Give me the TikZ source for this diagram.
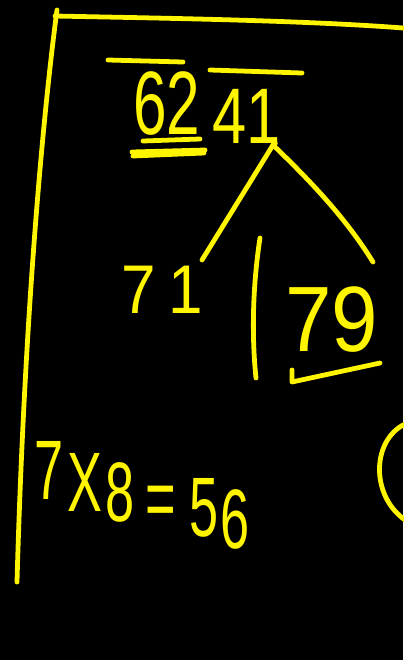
\documentclass[tikz,border=0pt]{standalone}
\usepackage{fontspec}
\setmainfont{Liberation Sans}
\usepackage{tikz}
\usetikzlibrary{positioning,calc}
\definecolor{inkyellow}{RGB}{255, 245, 0}
\newcommand{\handsize}[1]{\fontsize{#1}{#1}\selectfont}

\begin{document}
\begin{tikzpicture}[x=0.025cm, y=-0.025cm, line cap=round, line join=round,
    ink/.style={draw=inkyellow, line width=3.4pt},
    digits/.style={text=inkyellow, inner sep=0pt, anchor=center}]
    % Board
    \fill[black] (0,0) rectangle (403,660);
    \useasboundingbox (0,0) rectangle (403,660);

    % Frame of the page
    \draw[ink] (57,10) .. controls (45,100) and (25,300) .. (17,582);
    \draw[ink] (55,16) .. controls (150,18) and (300,20) .. (403,28);

    % Top number
    \node[digits, xscale=0.67] (n62) at (167,104) {\handsize{64}62};
    \node[digits, xscale=0.78] (n41) at (247,116) {\handsize{56}41};
    \draw[ink] (108,60) -- (183,62);
    \draw[ink] (210,70) -- (302,73);
    \draw[ink] (143,141) -- (200,139);
    \draw[ink] (132,152) -- (205,150);
    \draw[ink] (133,156) -- (204,153);

    % Tree
    \coordinate (apex) at (273,145);
    \coordinate (lend) at (202,260);
    \coordinate (rend) at (373,262);
    \draw[ink] (n41.south east) ++(-6,0) -- (apex);
    \draw[ink] (apex) -- (lend);
    \draw[ink] (apex) .. controls (320,190) and (350,225) .. (rend);

    % Branch results
    \node[digits, xscale=0.9] (n71) at (162,290) {\handsize{49}\addfontfeature{LetterSpace=20}71};
    \node[digits, xscale=0.9] (n79) at (332,320) {\handsize{66}79};
    \coordinate (bartop) at (260,238);
    \coordinate (barbot) at (256,378);
    \draw[ink] (bartop) .. controls (252,290) and (252,340) .. (barbot);
    \coordinate (brk) at (292,382);
    \draw[ink] (292,370) -- (brk) -- (380,363);

    % Product, written downhill
    \node[digits] (eqn) at (142,495)
        {\scalebox{0.62}[1]{\handsize{60}%
         7\hspace{5pt}\raisebox{-9pt}{X}\hspace{3pt}\raisebox{-16pt}{8}\hspace{12pt}%
         \raisebox{-20pt}{=}\hspace{16pt}\raisebox{-27pt}{5}\hspace{2pt}\raisebox{-35pt}{6}}};

    % Circle at the right edge
    \draw[ink] (405,424) .. controls (372,440) and (370,495) .. (405,520);
\end{tikzpicture}
\end{document}
